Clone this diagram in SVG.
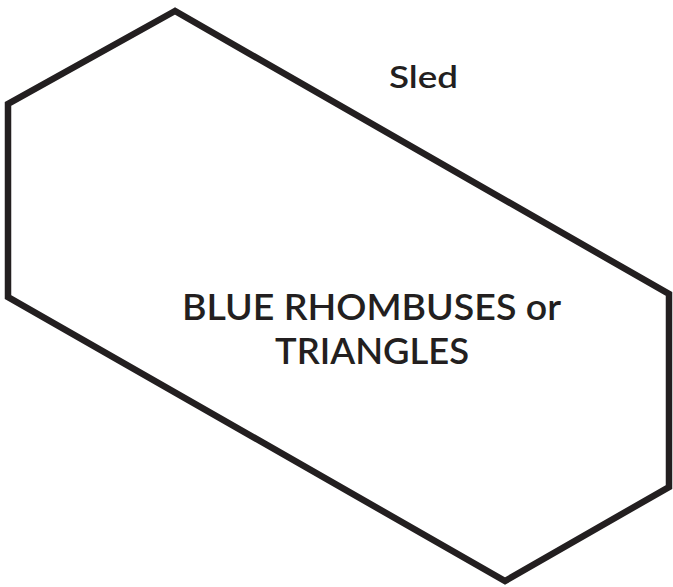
<svg xmlns="http://www.w3.org/2000/svg" width="673" height="587" viewBox="0 0 673 587">
  <style>
    .shape { fill: #ffffff; stroke: #231f20; stroke-width: 6.5; stroke-linejoin: miter; }
    .label { font-family: Lato, "Liberation Sans", sans-serif; fill: #231f20; text-anchor: middle; font-weight: 600; }
  </style>
  <rect width="673" height="587" fill="#ffffff"/>
  <g id="sled">
    <polygon class="shape" points="175,11 8,104 8,297 505,581 669,487 669,294"/>
    <text class="label" x="423.5" y="88" font-size="31" textLength="69" lengthAdjust="spacingAndGlyphs">Sled</text>
  </g>
  <g id="blue-rhombuses">
    <text class="label" x="371.5" y="320" font-size="36" textLength="379" lengthAdjust="spacingAndGlyphs">BLUE RHOMBUSES or</text>
    <text class="label" x="372" y="364" font-size="36" textLength="194" lengthAdjust="spacingAndGlyphs">TRIANGLES</text>
  </g>
</svg>
